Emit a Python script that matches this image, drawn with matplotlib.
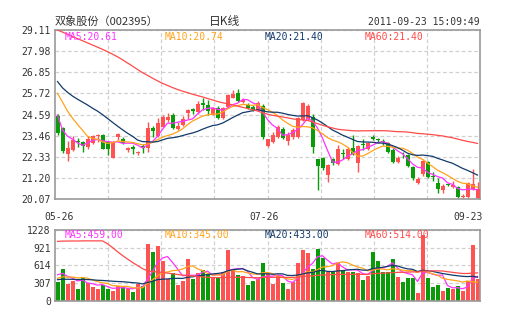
import numpy as np
import matplotlib
matplotlib.use("Agg")
import matplotlib.pyplot as plt
import matplotlib.transforms as mtransforms

# ---------------- data ----------------
title_text = "双象股份（002395）"
kline_text = "日K线"
timestamp_text = "2011-09-23 15:09:49"

date_labels = ["05-26", "07-26", "09-23"]
date_label_idx = [0, 42, 84]

opens = [24.50, 23.87, 22.49, 22.71, 23.17, 23.12, 22.85, 23.08, 23.42, 23.48,
         23.12, 22.26, 23.40, 23.26, 22.69, 22.85, 22.55, 22.90, 22.80, 23.85,
         23.44, 23.93, 24.28, 24.56, 23.80, 24.03, 24.68, 24.86, 24.70, 25.18,
         25.09, 24.59, 24.95, 24.38, 25.00, 25.49, 25.72, 25.27, 25.10, 25.00,
         24.82, 25.06, 22.89, 23.12, 23.39, 23.84, 23.16, 23.39, 23.39, 24.29,
         24.35, 24.45, 22.19, 22.26, 21.36, 22.20, 21.96, 22.50, 22.22, 22.78,
         21.98, 23.00, 22.76, 23.41, 23.26, 23.17, 23.05, 22.69, 22.07, 22.44,
         22.42, 21.80, 20.91, 21.41, 22.07, 21.30, 20.94, 20.55, 20.82, 20.72,
         20.70, 20.18, 20.20, 20.60, 20.12]
highs = [24.62, 23.92, 23.16, 23.44, 23.34, 23.16, 23.44, 23.50, 23.57, 23.57,
         23.15, 23.15, 23.60, 23.40, 22.85, 22.95, 22.65, 23.00, 24.20, 24.00,
         24.40, 24.55, 24.68, 24.65, 24.20, 24.50, 24.90, 24.92, 25.30, 25.49,
         25.36, 25.00, 25.02, 25.00, 25.67, 25.90, 25.95, 25.45, 25.20, 25.10,
         25.31, 25.13, 23.30, 23.66, 24.02, 23.93, 23.66, 23.87, 24.45, 25.27,
         25.15, 24.60, 22.22, 22.30, 21.95, 22.25, 22.94, 22.77, 22.85, 23.50,
         22.95, 23.30, 23.12, 23.50, 23.35, 23.30, 23.12, 22.80, 22.35, 22.60,
         22.48, 21.85, 21.25, 22.20, 22.12, 21.50, 21.20, 20.85, 20.88, 21.05,
         20.75, 20.35, 20.98, 21.65, 21.00]
lows = [23.50, 22.55, 22.08, 22.66, 22.85, 22.60, 22.77, 23.00, 23.10, 22.72,
        22.40, 22.26, 23.25, 23.00, 22.60, 22.50, 22.45, 22.55, 22.60, 23.40,
        23.40, 23.90, 24.20, 23.80, 23.75, 23.95, 24.35, 24.62, 24.60, 24.82,
        24.55, 24.55, 24.33, 24.33, 24.95, 25.45, 25.27, 25.20, 24.90, 24.78,
        24.78, 23.26, 22.85, 23.07, 23.34, 23.30, 22.94, 23.30, 23.35, 24.23,
        24.30, 22.55, 20.55, 21.60, 21.00, 21.90, 21.90, 22.22, 22.14, 22.40,
        21.52, 22.70, 22.70, 23.25, 23.05, 22.95, 22.55, 22.00, 22.00, 22.25,
        21.80, 21.10, 20.85, 21.30, 21.20, 21.05, 20.40, 20.40, 20.74, 20.65,
        20.15, 20.10, 20.15, 20.55, 20.07]
closes = [23.60, 22.64, 22.80, 23.21, 23.12, 22.93, 23.30, 23.44, 23.48, 22.77,
          22.73, 23.12, 23.55, 23.08, 22.80, 22.73, 22.60, 22.80, 23.87, 23.72,
          24.12, 24.47, 24.45, 23.85, 24.00, 24.33, 24.83, 24.76, 25.15, 25.09,
          24.77, 24.95, 24.38, 24.95, 25.63, 25.68, 25.31, 25.36, 24.93, 24.82,
          25.18, 23.39, 23.27, 23.48, 23.93, 23.34, 23.52, 23.78, 24.38, 25.18,
          25.05, 22.87, 21.83, 21.72, 21.89, 21.97, 22.73, 22.48, 22.73, 22.50,
          22.88, 22.95, 23.09, 23.30, 23.20, 23.12, 22.60, 22.05, 22.28, 22.40,
          21.83, 21.18, 21.15, 22.08, 21.25, 21.27, 20.60, 20.77, 20.80, 20.82,
          20.20, 20.22, 20.90, 20.85, 20.62]
volumes = [330, 550, 295, 336, 208, 394, 307, 232, 208, 266,
           208, 162, 249, 249, 220, 145, 290, 249, 990, 840,
           944, 683, 382, 480, 278, 347, 724, 382, 480, 538,
           440, 394, 405, 498, 886, 538, 452, 423, 266, 345,
           380, 660, 460, 290, 445, 315, 205, 325, 660, 885,
           820, 553, 900, 745, 500, 490, 663, 535, 500, 490,
           478, 362, 435, 850, 695, 505, 507, 720, 420, 330,
           392, 390, 135, 1143, 400, 244, 273, 174, 226, 203,
           255, 174, 342, 967, 371]

# closes and volumes of the 59 sessions before the window (seed the moving averages)
pre_closes = [29.4, 29.8, 30.3, 30.0, 29.6, 30.2, 30.6, 30.1, 29.7, 30.3,
              31.2, 31.9, 32.6, 33.1, 32.8, 33.4, 33.0, 32.5, 32.9, 32.6, 32.3,
              31.4, 30.6, 30.1, 29.8, 29.5, 29.9, 29.6, 29.3, 29.8, 29.6,
              29.4, 29.0, 28.7, 29.2, 29.5, 29.1, 28.8, 28.9, 29.1, 29.3,
              27.6, 27.2, 26.5, 26.0, 26.4, 26.9, 26.6, 26.5, 26.8,
              27.3, 27.6, 27.0, 26.5, 26.0,
              26.6, 24.5, 24.0, 24.1]
pre_volumes = [240, 270, 230, 260, 250, 280, 235, 245, 240,
               3200, 4100, 4600, 4200, 3900, 3700, 3500, 3450, 3400,
               1500, 1350, 1200, 1150, 1100, 1050, 1000, 1050, 950, 1000, 950, 900,
               620, 540, 480, 510, 460, 530, 470, 450, 480, 460,
               380, 320, 350, 300, 360, 340, 310, 370, 330, 340,
               300, 350, 320, 360, 320,
               420, 560, 490, 450]

price_ticks = [20.07, 21.20, 22.33, 23.46, 24.59, 25.72, 26.85, 27.98, 29.11]
vol_ticks = [0, 307, 614, 921, 1228]

ma_periods = [5, 10, 20, 60]
price_ma_labels = ["MA5:20.61", "MA10:20.74", "MA20:21.40", "MA60:21.40"]
vol_ma_labels = ["MA5:459.00", "MA10:345.00", "MA20:433.00", "MA60:514.00"]

# ---------------- style ----------------
W, H = 505, 330
RED = "#ff5252"
GREEN = "#0a9a0a"
MA_COLORS = ["#ff33ff", "#ffa31a", "#123a6a", "#ff4a4a"]
LABEL_COLORS = ["#ff33ff", "#ffa31a", "#123a6a", "#ff4a4a"]
GRID = "#d0d0d0"
SPINE = "#999999"
TXT = "#333333"
MONO = "DejaVu Sans Mono"
CJK = ["Noto Sans CJK SC", "DejaVu Sans"]
date_label_shift = [0.4, -0.6, 0.0]   # fine horizontal nudges (candle units)


def moving_average(pre, vals, p):
    full = np.array(list(pre) + list(vals), dtype=float)
    n0 = len(pre)
    return np.array([full[n0 + i - p + 1:n0 + i + 1].mean() for i in range(len(vals))])


n = len(closes)
x = np.arange(n)
o = np.array(opens); c = np.array(closes); hi = np.array(highs); lo = np.array(lows)
v = np.array(volumes, dtype=float)
up = c >= o
colors = np.where(up, RED, GREEN)

fig = plt.figure(figsize=(W / 100, H / 100), dpi=100)
fig.patch.set_facecolor("white")


def axrect(l, t, r, b):
    return [l / W, 1 - b / H, (r - l) / W, (b - t) / H]


ax = fig.add_axes(axrect(55, 30, 480, 199))
axv = fig.add_axes(axrect(55, 230, 480, 300.7))

grid_x = [10.625 * k - 0.5 for k in range(1, 8)]

for a in (ax, axv):
    a.set_xlim(-0.5, n - 0.5)
    a.set_xticks(grid_x)
    a.set_xticklabels([])
    a.tick_params(length=0, labelsize=7, labelcolor=TXT, pad=3)
    a.grid(True, color=GRID, linestyle=(0, (3, 2)), linewidth=0.9)
    a.set_axisbelow(True)
    for s in a.spines.values():
        s.set_color(SPINE)
        s.set_linewidth(1.2)

# --- price panel ---
ax.set_ylim(price_ticks[0], price_ticks[-1])
ax.set_yticks(price_ticks)
ax.set_yticklabels([f"{t:.2f}" for t in price_ticks], fontfamily=MONO)

ax.vlines(x, lo, hi, colors=colors, linewidth=1, zorder=2)
body_bottom = np.minimum(o, c)
body_h = np.maximum(np.abs(c - o), 0.05)
ax.bar(x, body_h, bottom=body_bottom, width=0.8, color=colors, linewidth=0, zorder=3)

for p, col in zip(ma_periods, MA_COLORS):
    ma = moving_average(pre_closes, closes, p)
    ax.plot(x, ma, color=col, linewidth=0.9, zorder=4)

for k, (lab, col) in enumerate(zip(price_ma_labels, LABEL_COLORS)):
    fig.text((65 + 100 * k) / W, 1 - 37 / H, lab, color=col, fontsize=7,
             fontfamily=MONO, va="center", ha="left")

# date labels
tr = mtransforms.blended_transform_factory(ax.transData, ax.transAxes)
for idx, lab, sh in zip(date_label_idx, date_labels, date_label_shift):
    if idx == n - 1:
        ax.text(1.0 + 3 / 425, -18 / 169, lab, transform=ax.transAxes, ha="right",
                va="center", fontsize=7, fontfamily=MONO, color=TXT)
    else:
        ax.text(idx + sh, -18 / 169, lab, transform=tr, ha="center", va="center",
                fontsize=7, fontfamily=MONO, color=TXT)

# --- volume panel ---
axv.set_ylim(vol_ticks[0], vol_ticks[-1])
axv.set_yticks(vol_ticks)
axv.set_yticklabels([str(t) for t in vol_ticks], fontfamily=MONO)
axv.bar(x, v, width=0.8, color=colors, linewidth=0, zorder=2)
for p, col in zip(ma_periods, MA_COLORS):
    ma = moving_average(pre_volumes, volumes, p)
    axv.plot(x, ma, color=col, linewidth=0.9, zorder=4)

for k, (lab, col) in enumerate(zip(vol_ma_labels, LABEL_COLORS)):
    fig.text((65 + 100 * k) / W, 1 - 235 / H, lab, color=col, fontsize=7,
             fontfamily=MONO, va="center", ha="left")

# --- header texts ---
fig.text(55 / W, 1 - 21 / H, title_text, fontfamily=CJK, fontsize=8, color=TXT,
         ha="left", va="center")
fig.text(225 / W, 1 - 21 / H, kline_text, fontfamily=CJK, fontsize=8.5, color=TXT,
         ha="center", va="center")
fig.text(480 / W, 1 - 22 / H, timestamp_text, fontfamily=MONO, fontsize=7, color=TXT,
         ha="right", va="center")

fig.savefig("out.png", dpi=100, facecolor="white")
